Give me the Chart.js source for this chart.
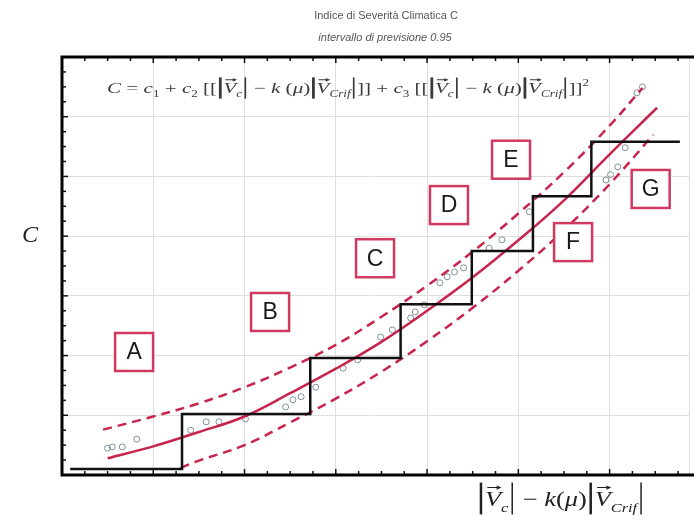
<!DOCTYPE html>
<html>
<head>
<meta charset="utf-8">
<script src="https://cdn.jsdelivr.net/npm/chart.js@4.4.1/dist/chart.umd.min.js"></script>
<style>
  html, body { margin: 0; padding: 0; background: #fff; }
  #wrap { width: 694px; height: 526px; }
</style>
</head>
<body>
<div id="wrap"><canvas id="chart-1"></canvas></div>
<script>
// staircase (class limits)
const stepX = [0.09, 1.315, 2.72, 3.71, 4.49, 5.16, 5.80, 6.77];
const stepY = [0.10, 1.02, 1.96, 2.86, 3.75, 4.67, 5.58, 5.58];

// fitted curve and 0.95 prediction band
const fitX = [0.5, 1.0, 1.5, 2.0, 2.5, 3.0, 3.5, 4.0, 4.5, 5.0, 5.5, 6.0, 6.52];
const fitY = [0.28, 0.48, 0.72, 0.98, 1.37, 1.78, 2.23, 2.75, 3.31, 3.93, 4.60, 5.37, 6.15];
const upX = [0.45, 1.0, 1.5, 2.0, 2.5, 3.0, 3.5, 4.0, 4.5, 5.0, 5.5, 6.0, 6.36];
const upY = [0.76, 0.98, 1.20, 1.47, 1.80, 2.18, 2.65, 3.17, 3.74, 4.38, 5.07, 5.85, 6.48];
const loX = [1.3, 1.5, 2.0, 2.5, 3.0, 3.5, 4.0, 4.5, 5.0, 5.5, 6.0, 6.48];
const loY = [0.12, 0.24, 0.50, 0.88, 1.28, 1.73, 2.24, 2.80, 3.42, 4.10, 4.87, 5.70];

// observations
const obsX = [0.50, 0.55, 0.66, 0.82, 1.41, 1.58, 1.72, 2.01, 2.45, 2.53, 2.62, 2.78, 3.08, 3.24, 3.49,
              3.62, 3.82, 3.87, 3.97, 4.14, 4.22, 4.30, 4.40, 4.68, 4.82, 5.12, 5.96, 6.01, 6.09, 6.17, 6.30, 6.36];
const obsY = [0.45, 0.47, 0.47, 0.60, 0.75, 0.89, 0.89, 0.94, 1.14, 1.26, 1.31, 1.47, 1.79, 1.93, 2.31,
              2.43, 2.63, 2.73, 2.85, 3.22, 3.32, 3.40, 3.47, 3.80, 3.94, 4.41, 4.94, 5.03, 5.16, 5.48, 6.40, 6.50];

// class boxes
const classNames = ['A', 'B', 'C', 'D', 'E', 'F', 'G'];
const classX = [0.79, 2.28, 3.43, 4.24, 4.92, 5.60, 6.45];
const classY = [2.06, 2.73, 3.63, 4.52, 5.28, 3.90, 4.79];

const red = '#c8244c';
const pts = (xs, ys) => xs.map((x, i) => ({ x: x, y: ys[i] }));

const serif = '"Liberation Serif", "DejaVu Serif", serif';

// one piece of math text: t text, i italic, sub/sup, vec arrow, bar tall line
function pieceFont(p, size) {
    let s = (p.sub || p.sup) ? size * 0.62 : size;
    return (p.i ? 'italic ' : '') + s.toFixed(1) + 'px ' + serif;
}
function pieceWidth(ctx, p, size) {
    if (p.bar) return size * 0.3;
    ctx.font = pieceFont(p, size);
    return ctx.measureText(p.t).width;
}
function drawMath(ctx, pieces, cx, y, size, width, barH) {
    let total = 0;
    pieces.forEach(p => total += pieceWidth(ctx, p, size));
    let k = width ? width / total : 1;
    ctx.save();
    ctx.translate(cx - total * k / 2, y);
    ctx.scale(k, 1);
    ctx.textAlign = 'left';
    ctx.textBaseline = 'alphabetic';
    let x = 0;
    pieces.forEach(p => {
        let w = pieceWidth(ctx, p, size);
        if (p.bar) {
            ctx.lineWidth = p.thick ? 2 : 1.2;
            ctx.beginPath();
            ctx.moveTo(x + w / 2, -barH * 0.78);
            ctx.lineTo(x + w / 2, barH * 0.28);
            ctx.stroke();
        } else {
            ctx.font = pieceFont(p, size);
            let dy = p.sub ? size * 0.28 : (p.sup ? -size * 0.5 : 0);
            ctx.fillText(p.t, x, dy);
            if (p.vec) {
                let ay = -size * 0.88;
                ctx.lineWidth = 1;
                ctx.beginPath();
                ctx.moveTo(x + w * 0.15, ay);
                ctx.lineTo(x + w * 0.95, ay);
                ctx.moveTo(x + w * 0.95 - size * 0.14, ay - size * 0.08);
                ctx.lineTo(x + w * 0.95, ay);
                ctx.lineTo(x + w * 0.95 - size * 0.14, ay + size * 0.08);
                ctx.stroke();
            }
        }
        x += w;
    });
    ctx.restore();
}

function term(withSpace) {
    return [
        { bar: true, thick: true }, { t: 'V', i: true, vec: true }, { t: 'c', i: true, sub: true }, { bar: true },
        { t: ' \u2212 ' }, { t: 'k', i: true }, { t: withSpace ? ' (' : '(' }, { t: '\u03BC', i: true }, { t: ')' },
        { bar: true, thick: true }, { t: 'V', i: true, vec: true }, { t: 'Crif', i: true, sub: true }, { bar: true }
    ];
}

const overlay = {
    id: 'overlay',
    afterDraw(chart) {
        const ctx = chart.ctx;
        const a = chart.chartArea;
        const sx = chart.scales.x, sy = chart.scales.y;
        ctx.save();

        // inward ticks
        ctx.strokeStyle = '#111';
        ctx.lineWidth = 1.5;
        for (let v = 0; v <= 6.9; v += 0.25) {
            let px = sx.getPixelForValue(v);
            let len = (Math.abs(v - Math.round(v)) < 0.01) ? 6 : 4;
            ctx.beginPath();
            ctx.moveTo(px, a.bottom); ctx.lineTo(px, a.bottom - len);
            ctx.moveTo(px, a.top); ctx.lineTo(px, a.top + len);
            ctx.stroke();
        }
        for (let v = 0; v <= 7; v += 0.25) {
            let py = sy.getPixelForValue(v);
            let len = (Math.abs(v - Math.round(v)) < 0.01) ? 6 : 4;
            ctx.beginPath();
            ctx.moveTo(a.left, py); ctx.lineTo(a.left + len, py);
            ctx.stroke();
        }

        // frame
        ctx.strokeStyle = '#000';
        ctx.lineWidth = 3;
        ctx.beginPath();
        ctx.moveTo(694, a.top);
        ctx.lineTo(a.left, a.top);
        ctx.lineTo(a.left, a.bottom);
        ctx.lineTo(694, a.bottom);
        ctx.stroke();

        // boxes
        ctx.textAlign = 'center';
        ctx.textBaseline = 'middle';
        classNames.forEach((n, i) => {
            let cx = sx.getPixelForValue(classX[i]);
            let cy = sy.getPixelForValue(classY[i]);
            ctx.fillStyle = '#fff';
            ctx.fillRect(cx - 19, cy - 19, 38, 38);
            ctx.strokeStyle = '#d03a60';
            ctx.lineWidth = 2.5;
            ctx.strokeRect(cx - 19, cy - 19, 38, 38);
            ctx.fillStyle = '#1a1a1a';
            ctx.font = '23px "Liberation Sans", Arial, sans-serif';
            ctx.fillText(n, cx, cy + 1);
        });

        // title
        ctx.fillStyle = '#555';
        ctx.font = '11px "Liberation Sans", Arial, sans-serif';
        ctx.fillText('Indice di Severità Climatica C', 386, 16);
        ctx.font = 'italic 11px "Liberation Sans", Arial, sans-serif';
        ctx.fillText('intervallo di previsione 0.95', 385, 38);

        // formula
        ctx.fillStyle = '#3a3a3a';
        ctx.strokeStyle = '#3a3a3a';
        const formula = [
            { t: 'C', i: true }, { t: ' = ' }, { t: 'c', i: true }, { t: '1', sub: true }, { t: ' + ' },
            { t: 'c', i: true }, { t: '2', sub: true }, { t: ' [[' }
        ].concat(term(true), [
            { t: ']]' }, { t: ' + ' }, { t: 'c', i: true }, { t: '3', sub: true }, { t: ' [[' }
        ], term(true), [
            { t: ']]' }, { t: '2', sup: true }
        ]);
        drawMath(ctx, formula, 348, 93, 15, 482, 20);

        // axis titles
        ctx.fillStyle = '#222';
        ctx.strokeStyle = '#222';
        ctx.textAlign = 'center';
        ctx.textBaseline = 'middle';
        ctx.font = 'italic 24px ' + serif;
        ctx.fillText('C', 30, 236);
        drawMath(ctx, term(false), 561, 506, 21, 168, 30);

        ctx.restore();
    }
};

let chart_1 = document.getElementById('chart-1');

new Chart(chart_1, {
    type: 'scatter',
    data: {
        datasets: [{
            type: 'line',
            data: pts(stepX, stepY),
            stepped: true,
            borderColor: '#111',
            borderWidth: 2.5,
            pointRadius: 0,
            order: 1
        }, {
            type: 'line',
            data: pts(fitX, fitY),
            borderColor: red,
            borderWidth: 2.5,
            tension: 0.4,
            pointRadius: 0,
            order: 2
        }, {
            type: 'line',
            data: pts(upX, upY),
            borderColor: red,
            borderWidth: 2.5,
            borderDash: [9, 6],
            tension: 0.4,
            pointRadius: 0,
            order: 3
        }, {
            type: 'line',
            data: pts(loX, loY),
            borderColor: red,
            borderWidth: 2.5,
            borderDash: [9, 6],
            tension: 0.4,
            pointRadius: 0,
            order: 4
        }, {
            data: pts(obsX, obsY),
            pointStyle: 'circle',
            pointRadius: 3,
            borderWidth: 1,
            borderColor: '#7f9196',
            backgroundColor: 'rgba(255,255,255,0)',
            order: 5
        }]
    },
    options: {
        responsive: true,
        maintainAspectRatio: false,
        animation: false,
        events: [],
        layout: { padding: { left: 62, top: 57, right: -6, bottom: 51 } },
        plugins: { legend: { display: false }, tooltip: { enabled: false } },
        scales: {
            x: {
                type: 'linear', min: 0, max: 6.87,
                ticks: { display: false, stepSize: 1 },
                grid: { color: '#dedede', drawTicks: false },
                border: { display: false }
            },
            y: {
                type: 'linear', min: 0, max: 7,
                ticks: { display: false, stepSize: 1 },
                grid: { color: '#dedede', drawTicks: false },
                border: { display: false }
            }
        }
    },
    plugins: [overlay]
});
</script>
</body>
</html>
